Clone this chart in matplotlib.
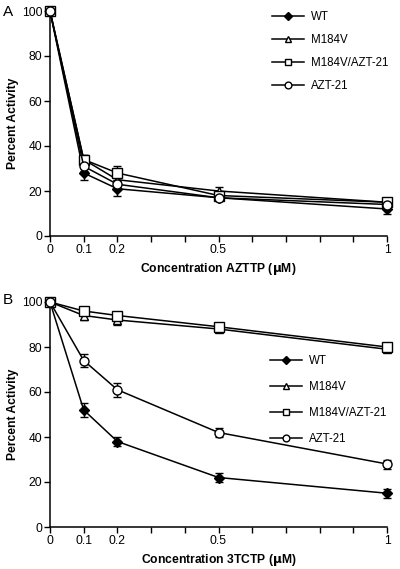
import matplotlib
matplotlib.use("Agg")
import matplotlib.pyplot as plt

plt.rcParams["font.family"] = ["Liberation Sans", "DejaVu Sans"]

conc = [0, 0.1, 0.2, 0.5, 1]
series = ["WT", "M184V", "M184V/AZT-21", "AZT-21"]

# painel A: AZTTP
azttp_val = {
    "WT":           [100, 28, 21, 17, 12],
    "M184V":        [100, 34, 25, 20, 15],
    "M184V/AZT-21": [100, 34, 28, 18, 15],
    "AZT-21":       [100, 31, 23, 17, 14],
}
azttp_err = {
    "WT":           [0, 3, 3, 1, 2],
    "M184V":        [0, 2, 2, 2, 2],
    "M184V/AZT-21": [0, 2, 3, 1, 2],
    "AZT-21":       [0, 2, 2, 1, 1],
}

# painel B: 3TCTP
tctp_val = {
    "WT":           [100, 52, 38, 22, 15],
    "M184V":        [100, 94, 92, 88, 79],
    "M184V/AZT-21": [100, 96, 94, 89, 80],
    "AZT-21":       [100, 74, 61, 42, 28],
}
tctp_err = {
    "WT":           [0, 3, 2, 2, 2],
    "M184V":        [0, 2, 2, 1, 1],
    "M184V/AZT-21": [0, 1, 1, 1, 1],
    "AZT-21":       [0, 3, 3, 2, 2],
}

xticks_lab = [0, 0.1, 0.2, 0.5, 1]
xticks_minor = [0.3, 0.4, 0.6, 0.7, 0.8, 0.9]
yticks = [0, 20, 40, 60, 80, 100]

estilos = {
    "WT":           dict(marker="D", mfc="black", ms=5.5),
    "M184V":        dict(marker="^", mfc="white", ms=6),
    "M184V/AZT-21": dict(marker="s", mfc="white", ms=6.5),
    "AZT-21":       dict(marker="o", mfc="white", ms=6.5),
}

W, H = 400, 569
fig = plt.figure(figsize=(W / 100, H / 100), dpi=100)


def painel(rect, valores, erros, xlabel, letra, letra_y, leg_anchor, leg_spacing):
    ax = fig.add_axes(rect)
    for s in series:
        st = estilos[s]
        ax.errorbar(conc, valores[s], yerr=erros[s], color="black", lw=1.1,
                    marker=st["marker"], ms=st["ms"], mfc=st["mfc"], mec="black",
                    mew=1.0, capsize=3, elinewidth=1.0, capthick=1.0,
                    label=s, clip_on=False, zorder=3)
    ax.set_xlim(0, 1)
    ax.set_ylim(0, 100)
    ax.set_xticks(xticks_lab)
    ax.set_xticklabels(["0", "0.1", "0.2", "0.5", "1"])
    ax.set_xticks(xticks_minor, minor=True)
    ax.set_yticks(yticks)
    ax.tick_params(which="both", direction="out", length=4, width=1.0, labelsize=8.7, pad=1.5)
    for sp in ["top", "right"]:
        ax.spines[sp].set_visible(False)
    for sp in ["left", "bottom"]:
        ax.spines[sp].set_linewidth(1.1)
    ax.set_xlabel(xlabel, fontsize=8.7, fontweight="bold", labelpad=4)
    ax.set_ylabel("Percent Activity", fontsize=8.7, fontweight="bold", labelpad=2)
    fig.text(3 / W, 1 - letra_y / H, letra, fontsize=11, va="center", ha="left")
    handles, labels = ax.get_legend_handles_labels()
    handles = [h[0] for h in handles]
    ax.legend(handles, labels, loc="upper left", frameon=False, fontsize=8.3,
              bbox_to_anchor=(leg_anchor[0] / W, 1 - leg_anchor[1] / H),
              bbox_transform=fig.transFigure, handlelength=2.8, handletextpad=0.6,
              labelspacing=leg_spacing, borderaxespad=0, borderpad=0, markerscale=0.75)
    return ax


painel([50 / W, 1 - 236 / H, 337 / W, 225 / H], azttp_val, azttp_err,
       "Concentration AZTTP ($\\mathbf{\\mu}$M)", "A", 12, (272, 11), 0.95)
painel([50 / W, 1 - 527 / H, 337 / W, 225 / H], tctp_val, tctp_err,
       "Concentration 3TCTP ($\\mathbf{\\mu}$M)", "B", 300, (270, 355), 1.21)

fig.savefig("out.png", dpi=100)
